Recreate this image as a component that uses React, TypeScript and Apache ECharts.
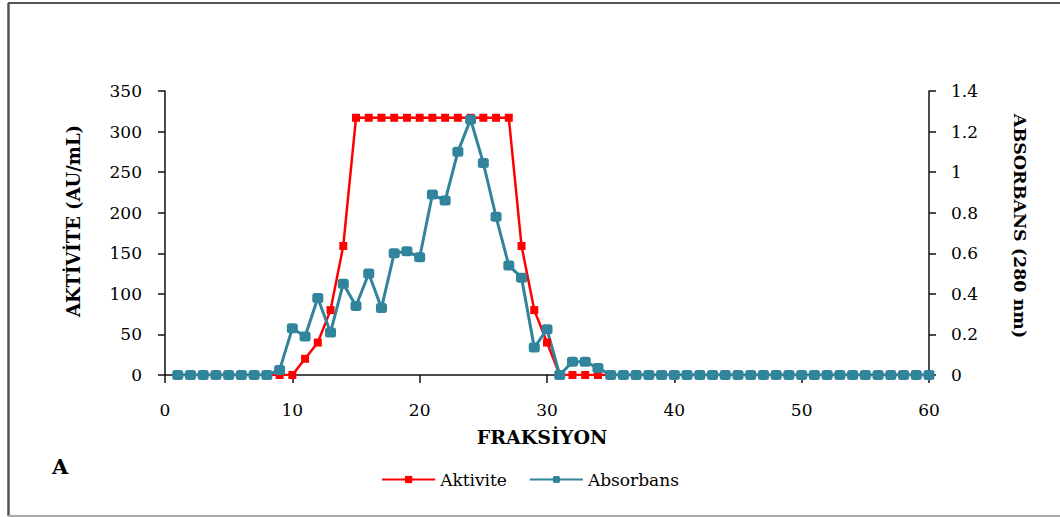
import React, { useEffect, useRef } from "react";
import * as echarts from "echarts";

const fractions = [
  1, 2, 3, 4, 5, 6, 7, 8, 9, 10, 11, 12, 13, 14, 15, 16, 17, 18, 19, 20,
  21, 22, 23, 24, 25, 26, 27, 28, 29, 30, 31, 32, 33, 34, 35, 36, 37, 38, 39, 40,
  41, 42, 43, 44, 45, 46, 47, 48, 49, 50, 51, 52, 53, 54, 55, 56, 57, 58, 59, 60,
];

const aktivite = [
  0, 0, 0, 0, 0, 0, 0, 0, 0, 0, 20, 40, 80, 159, 317, 317, 317, 317, 317, 317,
  317, 317, 317, 317, 317, 317, 317, 159, 80, 40, 0, 0, 0, 0, 0, 0, 0, 0, 0, 0,
  0, 0, 0, 0, 0, 0, 0, 0, 0, 0, 0, 0, 0, 0, 0, 0, 0, 0, 0, 0,
];

const absorbans = [
  0, 0, 0, 0, 0, 0, 0, 0, 0.025, 0.23, 0.19, 0.38, 0.21, 0.45, 0.34, 0.5, 0.33, 0.6, 0.61, 0.58,
  0.89, 0.86, 1.1, 1.26, 1.045, 0.78, 0.54, 0.48, 0.135, 0.225, 0, 0.065, 0.065, 0.035, 0, 0, 0, 0, 0, 0,
  0, 0, 0, 0, 0, 0, 0, 0, 0, 0, 0, 0, 0, 0, 0, 0, 0, 0, 0, 0,
];

const FONT = "DejaVu Serif";

export default function App() {
  const ref = useRef<HTMLDivElement>(null);
  useEffect(() => {
    if (!ref.current) return;
    const chart = echarts.init(ref.current, null, { renderer: "svg" });
    const axisLine = { show: true, lineStyle: { color: "#111", width: 1.5 } };
    const tickStyle = { color: "#111", width: 1.5 };
    chart.setOption({
      animation: false,
      backgroundColor: "#fff",
      grid: { left: 165, right: 131, top: 91, bottom: 142 },
      legend: {
        left: "center",
        top: 466,
        itemWidth: 53,
        itemHeight: 9,
        itemGap: 22,
        textStyle: { fontFamily: FONT, fontSize: 17, color: "#000" },
        data: ["Aktivite", "Absorbans"],
      },
      xAxis: {
        type: "value",
        min: 0,
        max: 60,
        interval: 10,
        name: "FRAKSİYON",
        nameLocation: "middle",
        nameGap: 52,
        nameTextStyle: { fontFamily: FONT, fontSize: 19, fontWeight: "bold", color: "#000", padding: [0, 10, 0, 0] },
        axisLine,
        axisTick: { show: true, length: 8, lineStyle: tickStyle },
        axisLabel: { fontFamily: FONT, fontSize: 17, color: "#000", margin: 26 },
        splitLine: { show: false },
      },
      yAxis: [
        {
          type: "value",
          min: 0,
          max: 350,
          interval: 50,
          position: "left",
          name: "AKTİVİTE (AU/mL)",
          nameLocation: "middle",
          nameGap: 83,
          nameRotate: 90,
          nameTextStyle: { fontFamily: FONT, fontSize: 18, fontWeight: "bold", color: "#000", padding: [0, 0, 0, 24] },
          axisLine,
          axisTick: { show: true, length: 7, lineStyle: tickStyle },
          axisLabel: { fontFamily: FONT, fontSize: 17, color: "#000", margin: 23 },
          splitLine: { show: false },
        },
        {
          type: "value",
          min: 0,
          max: 1.4,
          interval: 0.2,
          position: "right",
          name: "ABSORBANS (280 nm)",
          nameLocation: "middle",
          nameGap: 82,
          nameRotate: -90,
          nameTextStyle: { fontFamily: FONT, fontSize: 17.5, fontWeight: "bold", color: "#000", padding: [0, 14, 0, 0] },
          axisLine,
          axisTick: { show: true, length: 7, lineStyle: tickStyle },
          axisLabel: {
            fontFamily: FONT,
            fontSize: 17,
            color: "#000",
            margin: 22,
            formatter: (v: number) => String(+v.toFixed(1)),
          },
          splitLine: { show: false },
        },
      ],
      series: [
        {
          name: "Aktivite",
          type: "line",
          yAxisIndex: 0,
          data: fractions.map((f, i) => [f, aktivite[i]]),
          symbol: "rect",
          symbolSize: 8,
          showAllSymbol: true,
          lineStyle: { color: "#FF0000", width: 2.5 },
          itemStyle: { color: "#FF0000" },
        },
        {
          name: "Absorbans",
          type: "line",
          yAxisIndex: 1,
          data: fractions.map((f, i) => [f, absorbans[i]]),
          symbol: "roundRect",
          symbolSize: [11, 10],
          showAllSymbol: true,
          lineStyle: { color: "#31849B", width: 3 },
          itemStyle: { color: "#31849B" },
        },
      ],
      graphic: [
        { type: "line", shape: { x1: 8, y1: 3, x2: 1060, y2: 3 }, style: { stroke: "#555", lineWidth: 2 } },
        { type: "line", shape: { x1: 8.5, y1: 3, x2: 8.5, y2: 516 }, style: { stroke: "#555", lineWidth: 2.5 } },
        { type: "line", shape: { x1: 8, y1: 516, x2: 1060, y2: 516 }, style: { stroke: "#aaa", lineWidth: 2 } },
        {
          type: "text",
          left: 52,
          top: 456,
          style: { text: "A", font: `bold 21px '${FONT}'`, fill: "#000" },
        },
      ],
    });
    return () => chart.dispose();
  }, []);
  return (
    <div
      ref={ref}
      style={{ position: "fixed", left: 0, top: 0, width: 1060, height: 517 }}
    />
  );
}
